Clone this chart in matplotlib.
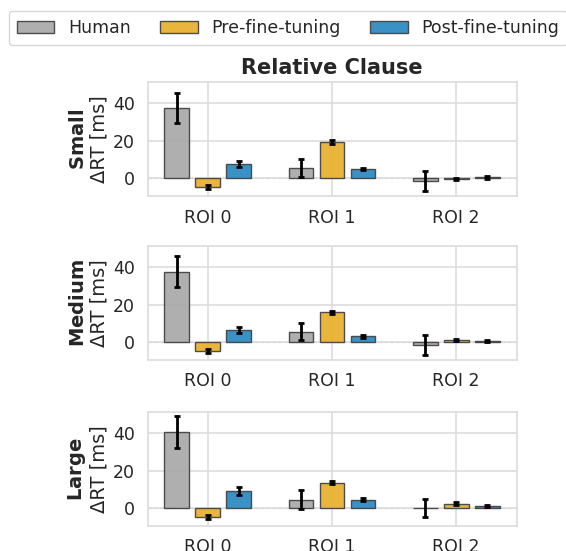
import numpy as np
import matplotlib.pyplot as plt
import seaborn as sns

sns.set_theme(style="whitegrid")
plt.rcParams['font.family'] = ['DejaVu Sans']

rois = ["ROI 0", "ROI 1", "ROI 2"]
sizes = ["Small", "Medium", "Large"]
groups = ["Human", "Pre-fine-tuning", "Post-fine-tuning"]
colors = ["#ababab", "#e9b131", "#2e8bc2"]

# means per size, per group, per ROI
means = {
    "Small": [[37.5, 5.4, -1.4], [-4.8, 19.4, -0.4], [7.6, 4.8, 0.5]],
    "Medium": [[37.7, 5.7, -1.3], [-4.6, 16.1, 1.1], [6.7, 3.1, 0.6]],
    "Large": [[40.6, 4.5, 0.0], [-4.8, 13.7, 2.4], [9.1, 4.5, 1.0]],
}
errors = {
    "Small": [[8.2, 4.6, 5.4], [1.0, 1.1, 0.6], [1.7, 0.6, 0.8]],
    "Medium": [[8.3, 4.6, 5.4], [1.0, 0.8, 0.6], [1.6, 0.7, 0.7]],
    "Large": [[8.4, 5.0, 4.9], [1.2, 0.6, 0.8], [2.3, 0.8, 0.6]],
}

fig = plt.figure(figsize=(5.66, 5.51), dpi=100)
W, H = 566, 551
panel_tops = [82, 246, 412]
axes = []
for i, size in enumerate(sizes):
    top = panel_tops[i]
    ax = fig.add_axes([147.5 / W, 1 - (top + 114) / H, 369 / W, 114 / H])
    axes.append(ax)
    x = np.arange(len(rois))
    for g, (grp, col) in enumerate(zip(groups, colors)):
        ax.bar(x + (g - 1) * 0.25, means[size][g], width=0.2, color=col,
               edgecolor="#444444", linewidth=1.0, alpha=0.95, label=grp,
               yerr=errors[size][g], capsize=2,
               error_kw=dict(ecolor="black", elinewidth=2, capthick=2))
    ax.axhline(0, color="#bbbbbb", linestyle="--", linewidth=0.8, zorder=0.5)
    ax.set_xticks(x)
    ax.set_xticklabels(rois, fontsize=12.5)
    ax.set_ylim(-9.5, 51.3)
    ax.set_yticks([0, 20, 40])
    ax.tick_params(axis="y", labelsize=12.5, pad=3)
    ax.tick_params(axis="x", pad=3)
    ax.grid(True, color="#dddddd", linewidth=1.2)
    for s in ax.spines.values():
        s.set_color("#dddddd")
    ax.set_ylabel("$\\bf{" + size + "}$\nΔRT [ms]", fontsize=14, labelpad=3,
                  linespacing=1.1)
    ax.set_axisbelow(True)

axes[0].set_title("Relative Clause", fontsize=15, fontweight="bold", pad=6)

handles, labels = axes[0].get_legend_handles_labels()
fig.legend(handles, labels, loc="upper left", bbox_to_anchor=(9 / W, 1 - 11 / H),
           ncol=3, fontsize=12.5, frameon=True, edgecolor="#cccccc",
           columnspacing=1.7, handlelength=2.15, handletextpad=0.8,
           borderpad=0.45, borderaxespad=0)

fig.savefig("out.png", dpi=100)
